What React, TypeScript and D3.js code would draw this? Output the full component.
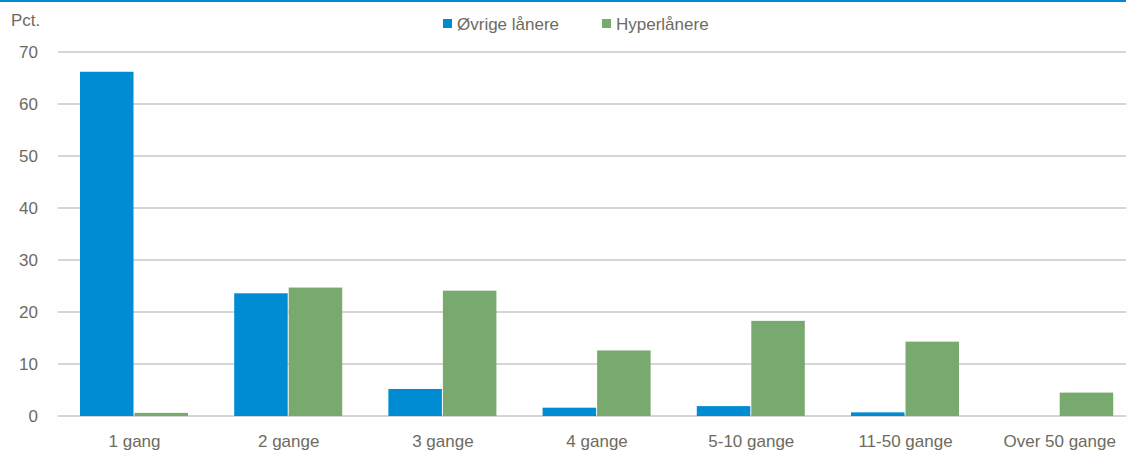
import { useEffect, useRef } from "react"
import * as d3 from "d3"

const categories = ["1 gang", "2 gange", "3 gange", "4 gange", "5-10 gange", "11-50 gange", "Over 50 gange"]
const seriesNames = ["Øvrige lånere", "Hyperlånere"]
const ovrige = [66.2, 23.6, 5.2, 1.6, 1.9, 0.7, 0]
const hyper = [0.6, 24.7, 24.1, 12.6, 18.3, 14.3, 4.5]
const yTicks = [0, 10, 20, 30, 40, 50, 60, 70]
const colors = ["#008CD2", "#78AA6F"]

const W = 1126
const H = 454
const textColor = "#6D6B5E"
const font = "'Liberation Sans', Arial, sans-serif"

export default function App() {
  const svgRef = useRef<SVGSVGElement>(null)

  useEffect(() => {
    const svg = d3.select(svgRef.current)
    svg.selectAll("*").remove()
    const margin = { top: 52, bottom: 38, left: 58 }

    // the plot area runs a little past the right edge of the picture
    const x = d3.scaleBand<string>()
      .domain(categories)
      .range([57.4, 1136.8])
      .paddingInner(0.293)
      .paddingOuter(0.1465)
    const xs = d3.scaleBand<number>()
      .domain([0, 1])
      .range([0, x.bandwidth()])
    const y = d3.scaleLinear()
      .domain([0, 70])
      .range([H - margin.bottom, margin.top])

    // top rule
    svg.append("rect")
      .attr("x", 0).attr("y", 0)
      .attr("width", W).attr("height", 2)
      .attr("fill", "#008CD2")

    svg.append("g")
      .selectAll("line")
      .data(yTicks)
      .join("line")
      .attr("x1", margin.left)
      .attr("x2", W)
      .attr("y1", d => y(d))
      .attr("y2", d => y(d))
      .attr("stroke", "#B0AD9E")
      .attr("stroke-width", 1.2)

    svg.append("g")
      .selectAll("text")
      .data(yTicks)
      .join("text")
      .attr("x", 38)
      .attr("y", d => y(d))
      .attr("dy", "0.35em")
      .attr("text-anchor", "end")
      .attr("fill", textColor)
      .attr("font-family", font)
      .attr("font-size", 17)
      .text(d => d)

    svg.append("text")
      .attr("x", 11)
      .attr("y", 26)
      .attr("fill", textColor)
      .attr("font-family", font)
      .attr("font-size", 17)
      .text("Pct.")

    const series = [ovrige, hyper]
    series.forEach((vals, si) => {
      svg.append("g")
        .selectAll("rect")
        .data(vals)
        .join("rect")
        .attr("x", (d, i) => (x(categories[i]) as number) + (xs(si) as number))
        .attr("width", xs.bandwidth() - 1)
        .attr("y", d => y(d))
        .attr("height", d => y(0) - y(d))
        .attr("fill", colors[si])
    })

    svg.append("g")
      .selectAll("text")
      .data(categories)
      .join("text")
      .attr("x", d => (x(d) as number) + x.bandwidth() / 2)
      .attr("y", 447)
      .attr("text-anchor", "middle")
      .attr("fill", textColor)
      .attr("font-family", font)
      .attr("font-size", 17)
      .text(d => d)

    const legendX = [443, 602]
    const lg = svg.append("g")
    seriesNames.forEach((name, i) => {
      lg.append("rect")
        .attr("x", legendX[i]).attr("y", 19)
        .attr("width", 9).attr("height", 9)
        .attr("fill", colors[i])
      lg.append("text")
        .attr("x", legendX[i] + 14)
        .attr("y", 30)
        .attr("fill", textColor)
        .attr("font-family", font)
        .attr("font-size", 17)
        .text(name)
    })
  }, [])

  return (
    <svg ref={svgRef} width={W} height={H}
      style={{ position: "absolute", left: 0, top: 0, background: "#fff" }} />
  )
}
